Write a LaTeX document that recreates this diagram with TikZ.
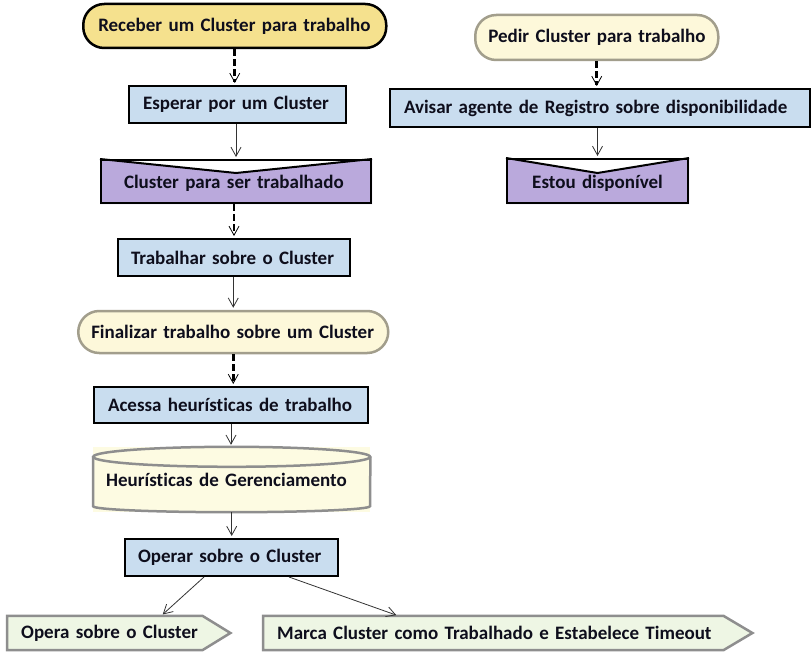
\documentclass[tikz,border=0pt]{standalone}
\usepackage{fontspec}
\setmainfont{Carlito}[Ligatures={NoCommon,NoRare}]
\usetikzlibrary{arrows.meta,calc}
\pgfdeclarelayer{bg}
\pgfdeclarelayer{paper}
\pgfsetlayers{paper,bg,main}
\definecolor{txt}{HTML}{0E0E1C}
\definecolor{pillyel}{HTML}{F5E18E}
\definecolor{paleyel}{HTML}{FDF8DA}
\definecolor{palebord}{HTML}{A29E8C}
\definecolor{boxblue}{HTML}{C9DDEF}
\definecolor{purp}{HTML}{BAA9DC}
\definecolor{cylfill}{HTML}{FDFBE2}
\definecolor{graybord}{HTML}{8E8E8E}
\definecolor{pentfill}{HTML}{EEF6E4}
\definecolor{arrcol}{HTML}{333333}
\begin{document}
\begin{tikzpicture}[x=1pt,y=-1pt,
  every node/.style={font=\fontsize{19}{22}\selectfont\bfseries, text=txt},
  base/.style={rectangle, anchor=west, align=left, inner ysep=0pt},
  bluebox/.style={base, draw=black, line width=2pt, fill=boxblue},
  pillA/.style={base, draw=black, line width=2.5pt, fill=pillyel, rounded corners=21pt},
  pillB/.style={base, draw=palebord, line width=2.5pt, fill=paleyel, rounded corners=21pt},
  notchbox/.style={base, draw=black, line width=2pt, text height=16pt, text depth=2pt},
  cylnode/.style={base, fill=cylfill},
  pentnode/.style={base},
  pentshape/.style={draw=graybord, line width=2.5pt, fill=pentfill, line join=miter},
  cylline/.style={draw=graybord, line width=2.5pt},
  arr/.style={draw=arrcol, line width=0.8pt, shorten >=2pt, -{Straight Barb[length=9pt,width=10pt]}},
  darr/.style={draw=black, line width=2.8pt, dash pattern=on 7pt off 3pt, shorten >=2pt,
     -{Straight Barb[length=9pt,width=10pt,line width=0.8pt]}}
]
\begin{pgfonlayer}{paper}
\fill[white] (0,0) rectangle (811,658);
\end{pgfonlayer}
\useasboundingbox (0,0) rectangle (811,658);

% left column
\node[pillA, text width=273pt, inner xsep=15pt, minimum height=44pt] (rec) at (82,26) {\mbox{Receber um Cluster para trabalho}};
\node[bluebox, text width=189pt, inner xsep=14pt, minimum height=37pt] (esp) at (128,104.5) {\mbox{Esperar por um Cluster}};
\node[notchbox, text width=224pt, inner xsep=23pt, minimum height=43pt] (clu) at (100,181.5) {\mbox{Cluster para ser trabalhado}};
\node[bluebox, text width=206pt, inner xsep=13pt, minimum height=37pt] (tra) at (117,257.5) {\mbox{Trabalhar sobre o Cluster}};
\node[pillB, text width=284pt, inner xsep=13pt, minimum height=42pt] (fin) at (77,332) {\mbox{Finalizar trabalho sobre um Cluster}};
\node[bluebox, text width=246pt, inner xsep=14pt, minimum height=36pt] (acc) at (93,405) {\mbox{Acessa heurísticas de trabalho}};
\node[cylnode, text width=251pt, inner xsep=13pt, minimum height=65pt] (heu) at (93,479.5) {\mbox{Heurísticas de Gerenciamento}};
\node[bluebox, text width=187pt, inner xsep=13pt, minimum height=37pt] (ope) at (124,557.5) {\mbox{Operar sobre o Cluster}};
\node[pentnode, text width=195pt, inner xsep=14pt, minimum height=34pt] (op1) at (7,633) {\mbox{Opera sobre o Cluster}};
\node[pentnode, text width=461pt, inner xsep=14pt, minimum height=34pt] (mar) at (263,633) {\mbox{Marca Cluster como Trabalhado e Estabelece Timeout}};

% right column
\node[pillB, text width=217pt, inner xsep=13pt, minimum height=45pt] (ped) at (474,37.5) {\mbox{Pedir Cluster para trabalho}};
\node[bluebox, text width=392pt, inner xsep=14pt, minimum height=38pt] (avi) at (389,108) {\mbox{Avisar agente de Registro sobre disponibilidade}};
\node[notchbox, align=center, text width=161pt, inner xsep=10pt, minimum height=44pt] (est) at (506,181) {\mbox{Estou disponível}};

% backgrounds of special shapes
\begin{pgfonlayer}{bg}
  \fill[purp] (clu.north west) -- ([yshift=-14pt]clu.north) -- (clu.north east) -- (clu.south east) -- (clu.south west) -- cycle;
  \fill[purp] (est.north west) -- ([yshift=-15pt]est.north) -- (est.north east) -- (est.south east) -- (est.south west) -- cycle;
  \path[pentshape] (op1.north west) -- ([xshift=-28pt]op1.north east) -- (op1.east) -- ([xshift=-28pt]op1.south east) -- (op1.south west) -- cycle;
  \path[pentshape] (mar.north west) -- ([xshift=-29pt]mar.north east) -- (mar.east) -- ([xshift=-29pt]mar.south east) -- (mar.south west) -- cycle;
\end{pgfonlayer}
\draw[line width=2pt, line join=miter] (clu.north west) -- ([yshift=-14pt]clu.north) -- (clu.north east);
\draw[line width=2pt, line join=miter] (est.north west) -- ([yshift=-15pt]est.north) -- (est.north east);

% cylinder outline
\draw[cylline] ([yshift=-10pt]heu.north) ellipse [x radius=138.5pt, y radius=10pt];
\draw[cylline] ([yshift=-10pt]heu.north west) -- ([yshift=6pt]heu.south west)
  arc[start angle=180, end angle=360, x radius=138.5pt, y radius=6pt] -- ([yshift=-10pt]heu.north east);

% connectors
\draw[darr] (rec.south) -- (rec.south |- esp.north);
\draw[arr] (clu.north |- esp.south) -- (clu.north);
\draw[darr] (clu.south -| tra.north) -- (tra.north);
\draw[arr] (fin.north |- tra.south) -- (fin.north);
\draw[darr] (fin.south) -- (fin.south |- acc.north);
\draw[arr] (acc.south) -- (acc.south |- heu.north);
\draw[arr] (heu.south) -- (heu.south |- ope.north);
\draw[arr] ([xshift=-27.5pt]ope.south) -- ([xshift=42.5pt]op1.north);
\draw[arr] ([xshift=57.5pt]ope.south) -- ([xshift=-109.5pt]mar.north);
\draw[darr] (ped.south) -- (ped.south |- avi.north);
\draw[arr] (est.north |- avi.south) -- (est.north);
\end{tikzpicture}
\end{document}
